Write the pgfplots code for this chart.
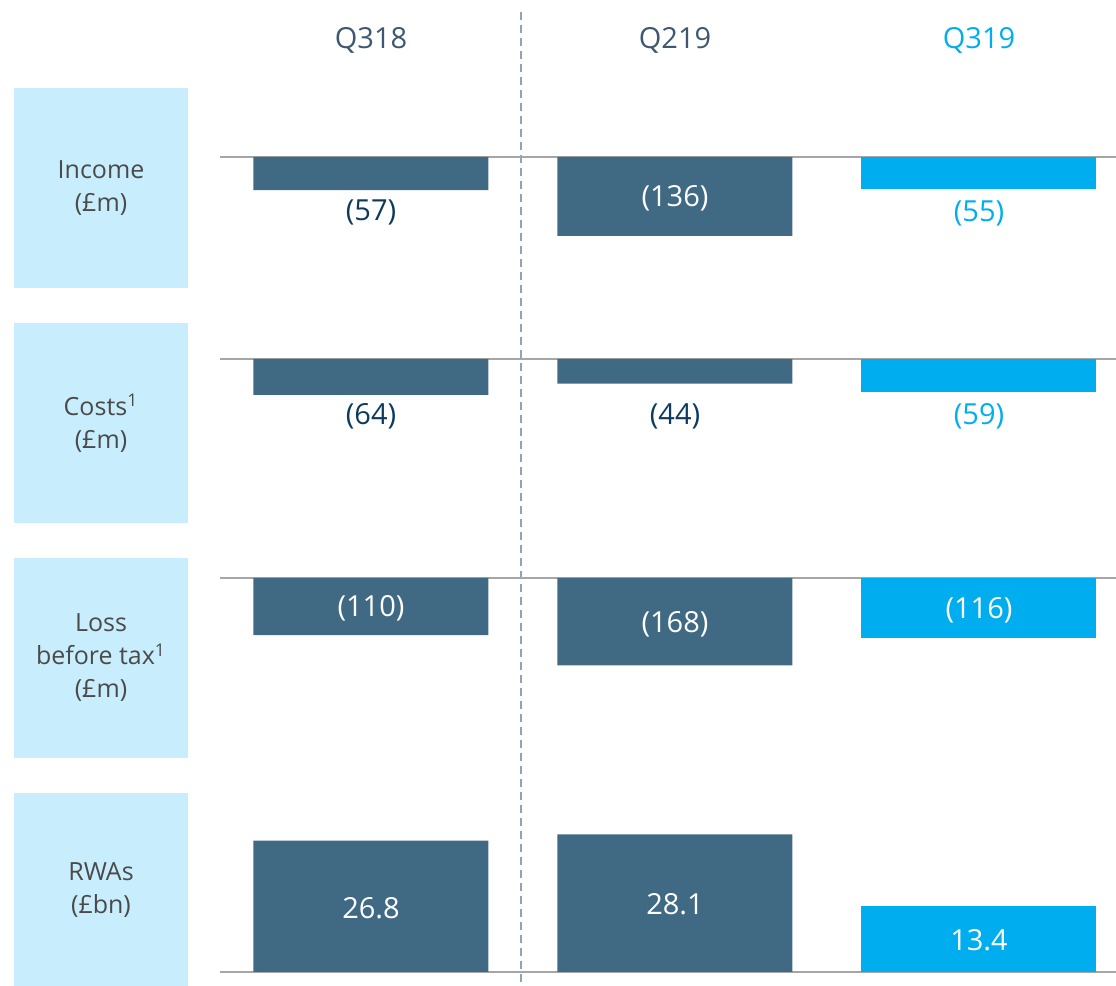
\documentclass[border=0pt]{standalone}
\usepackage{fontspec}
\setmainfont{Open Sans}
\usepackage{pgfplots}
\pgfplotsset{compat=1.18}

\definecolor{bardark}{HTML}{406A84}
\definecolor{barcyan}{HTML}{00AEEF}
\definecolor{boxblue}{HTML}{C8EEFD}
\definecolor{hdrtext}{HTML}{3D5870}
\definecolor{navy}{HTML}{0E3A5C}
\definecolor{boxtext}{HTML}{4A4A4A}
\definecolor{dashline}{HTML}{8FA5B6}

\pgfplotsset{
  rowaxis/.style={
    scale only axis, width=448pt,
    xmin=-0.4967, xmax=2.4507,
    axis y line=none,
    xtick=\empty, ytick=\empty,
    axis line style={draw=black!35, line width=0.6pt},
    clip=false,
  },
  bar/.style={ybar, bar width=117.5pt, draw=none, fill=#1},
}
\tikzset{vlab/.style={font=\fontsize{14.5}{16}\selectfont, text=#1}}

\begin{document}
\begin{tikzpicture}
% category boxes
\fill[boxblue] (7pt,349pt) rectangle (94pt,449pt);
\fill[boxblue] (7pt,231.5pt) rectangle (94pt,331.5pt);
\fill[boxblue] (7pt,114pt) rectangle (94pt,214pt);
\fill[boxblue] (7pt,0pt) rectangle (94pt,96.5pt);
\begin{scope}[every node/.style={align=center, text=boxtext, font=\fontsize{12.5}{16.5}\selectfont}]
\node at (50.5pt,399pt) {Income\\(£m)};
\node at (50.5pt,281.5pt) {Costs\textsuperscript{1}\\(£m)};
\node at (50.5pt,164pt) {Loss\\before tax\textsuperscript{1}\\(£m)};
\node at (50.5pt,48pt) {RWAs\\(£bn)};
\end{scope}

% column headers
\begin{scope}[every node/.style={anchor=base, font=\fontsize{14.5}{16}\selectfont}]
\node[text=hdrtext] at (185.5pt,468.5pt) {Q318};
\node[text=hdrtext] at (337.5pt,468.5pt) {Q219};
\node[text=barcyan] at (489.5pt,468.5pt) {Q319};
\end{scope}

% divider
\draw[dashline, line width=0.8pt, dash pattern=on 4pt off 2.5pt] (260.5pt,487pt) -- (260.5pt,0pt);

% Income
\begin{axis}[rowaxis, axis x line*=top, at={(110pt,414.5pt)}, anchor=north west,
  height=43.5pt, ymin=-150, ymax=0]
\addplot[bar=bardark] coordinates {(0,-57) (1,-136)};
\addplot[bar=barcyan] coordinates {(2,-55)};
\node[vlab=navy] at (axis cs:0,-95.5) {(57)};
\node[vlab=white] at (axis cs:1,-70.7) {(136)};
\node[vlab=barcyan] at (axis cs:2,-97) {(55)};
\end{axis}

% Costs
\begin{axis}[rowaxis, axis x line*=top, at={(110pt,313.5pt)}, anchor=north west,
  height=42pt, ymin=-150, ymax=0]
\addplot[bar=bardark] coordinates {(0,-64) (1,-44)};
\addplot[bar=barcyan] coordinates {(2,-59)};
\node[vlab=navy] at (axis cs:0,-102.5) {(64)};
\node[vlab=navy] at (axis cs:1,-102.5) {(44)};
\node[vlab=barcyan] at (axis cs:2,-102.5) {(59)};
\end{axis}

% Loss before tax
\begin{axis}[rowaxis, axis x line*=top, at={(110pt,204pt)}, anchor=north west,
  height=52pt, ymin=-200, ymax=0]
\addplot[bar=bardark] coordinates {(0,-110) (1,-168)};
\addplot[bar=barcyan] coordinates {(2,-116)};
\node[vlab=white] at (axis cs:0,-57.7) {(110)};
\node[vlab=white] at (axis cs:1,-88.5) {(168)};
\node[vlab=white] at (axis cs:2,-61.5) {(116)};
\end{axis}

% RWAs
\begin{axis}[rowaxis, axis x line*=bottom, at={(110pt,7pt)}, anchor=south west,
  height=73.5pt, ymin=0, ymax=30]
\addplot[bar=bardark] coordinates {(0,26.8) (1,28.1)};
\addplot[bar=barcyan] coordinates {(2,13.4)};
\node[vlab=white] at (axis cs:0,13.1) {26.8};
\node[vlab=white] at (axis cs:1,13.9) {28.1};
\node[vlab=white] at (axis cs:2,6.5) {13.4};
\end{axis}

\pgfresetboundingbox
\useasboundingbox (0pt,0pt) rectangle (558pt,493pt);
\end{tikzpicture}
\end{document}
